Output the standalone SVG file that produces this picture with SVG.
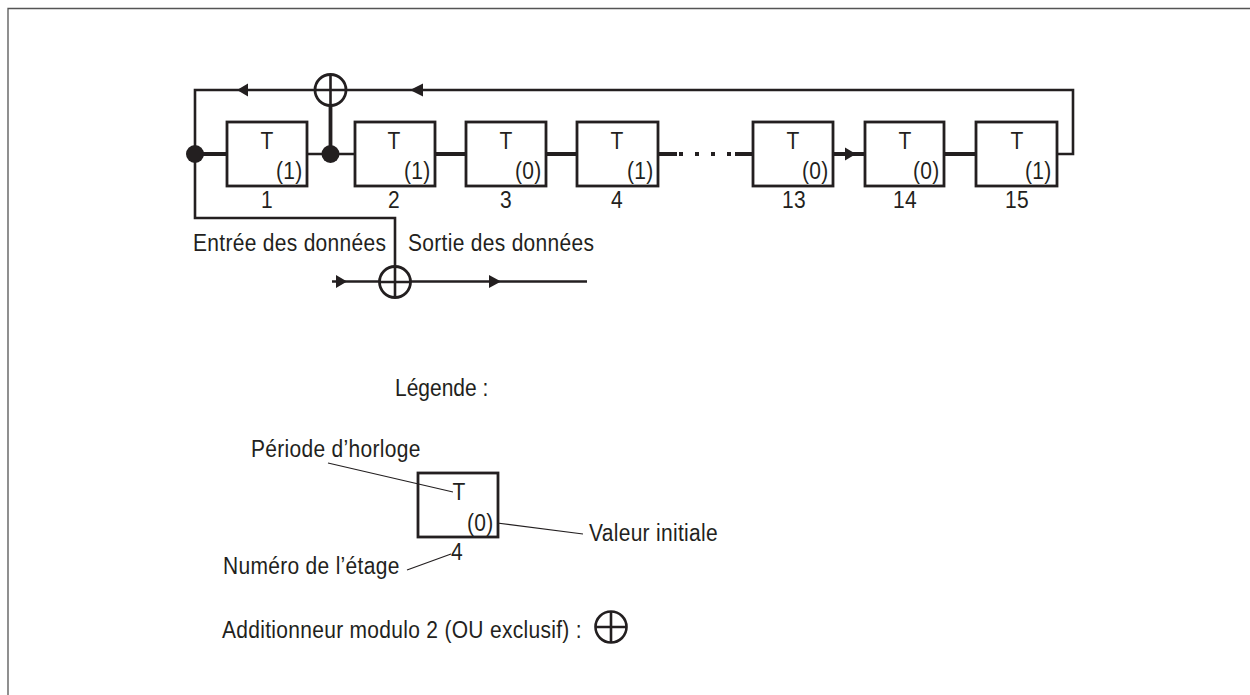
<svg xmlns="http://www.w3.org/2000/svg" width="1250" height="695" viewBox="0 0 1250 695">
<style>
text{font-family:"Liberation Sans",Arial,sans-serif;font-size:21px;letter-spacing:.3px;fill:#231f20}
.m{text-anchor:middle}
.b{fill:none;stroke:#231f20;stroke-width:2.800}
.w{fill:none;stroke:#231f20;stroke-width:2.600}
.t{fill:none;stroke:#231f20;stroke-width:3.800}
.n{fill:none;stroke:#231f20;stroke-width:1.200}
.x{fill:#fff;stroke:#231f20;stroke-width:2.800}
.a{fill:#231f20}
</style>
<rect width="1250" height="695" fill="#fff"/>
<path d="M8 695V8.500H1250" fill="none" stroke="#555" stroke-width="1.300"/>
<g id="connectors">
<path class="w" d="M195 154V90H1073V154H1057"/>
<path class="w" d="M195 154V218H395V282"/>
<path class="t" d="M195 154H227M330.500 90V154M434 154H466M546 154H577M833 154H865M944 154H976"/>
<path class="w" d="M307 154H355"/>
<path class="t" d="M658 154H677M679 154H683M695 154H699M711 154H715M727 154H731M735 154H753"/>
<path class="w" d="M332 281.500H587"/>
<path class="a" d="M248 83.500V96.500L237 90ZM423 83.500V96.500L410 90Z"/>
<path class="a" d="M336 275V288L347 281.500ZM489 275V288L501 281.500ZM845 147.500V160.500L856 154Z"/>
<circle class="a" cx="195" cy="154" r="9"/>
<circle class="a" cx="330.500" cy="154" r="9"/>
<path class="n" d="M328 463L453 492M497 523L583 534M407 570L451 554"/>
</g>
<g id="xor-top"><circle class="x" cx="330.500" cy="90" r="15.500"/><path class="w" d="M315 90H346M330.500 75V105"/></g>
<g id="xor-bottom"><circle class="x" cx="395" cy="282" r="15.500"/><path class="w" d="M380 282H411M395 267V297"/></g>
<g id="stage-1"><rect class="b" x="227" y="122" width="80" height="64"/><text class="m" transform="translate(267 149) scale(1 1.1)">T</text><text transform="translate(276 179) scale(1 1.1)">(1)</text><text class="m" transform="translate(267 208) scale(1 1.1)">1</text></g>
<g id="stage-2"><rect class="b" x="355" y="122" width="80" height="64"/><text class="m" transform="translate(394 149) scale(1 1.1)">T</text><text transform="translate(404 179) scale(1 1.1)">(1)</text><text class="m" transform="translate(394 208) scale(1 1.1)">2</text></g>
<g id="stage-3"><rect class="b" x="466" y="122" width="80" height="64"/><text class="m" transform="translate(506 149) scale(1 1.1)">T</text><text transform="translate(515 179) scale(1 1.1)">(0)</text><text class="m" transform="translate(506 208) scale(1 1.1)">3</text></g>
<g id="stage-4"><rect class="b" x="577" y="122" width="81" height="64"/><text class="m" transform="translate(617 149) scale(1 1.1)">T</text><text transform="translate(627 179) scale(1 1.1)">(1)</text><text class="m" transform="translate(617 208) scale(1 1.1)">4</text></g>
<g id="stage-13"><rect class="b" x="753" y="122" width="80" height="64"/><text class="m" transform="translate(793 149) scale(1 1.1)">T</text><text transform="translate(802 179) scale(1 1.1)">(0)</text><text class="m" transform="translate(794 208) scale(1 1.1)">13</text></g>
<g id="stage-14"><rect class="b" x="865" y="122" width="79" height="64"/><text class="m" transform="translate(905 149) scale(1 1.1)">T</text><text transform="translate(913 179) scale(1 1.1)">(0)</text><text class="m" transform="translate(905 208) scale(1 1.1)">14</text></g>
<g id="stage-15"><rect class="b" x="976" y="122" width="81" height="64"/><text class="m" transform="translate(1017 149) scale(1 1.1)">T</text><text transform="translate(1025 179) scale(1 1.1)">(1)</text><text class="m" transform="translate(1017 208) scale(1 1.1)">15</text></g>
<text transform="translate(193 251) scale(1 1.1)">Entrée des données</text>
<text transform="translate(408 251) scale(1 1.1)">Sortie des données</text>
<text transform="translate(395 396) scale(1 1.1)" style="letter-spacing:0">Légende :</text>
<text transform="translate(251 457) scale(1 1.1)">Période d’horloge</text>
<g id="legend-stage"><rect class="b" x="418" y="473" width="80" height="64"/><text class="m" transform="translate(459 500) scale(1 1.1)">T</text><text transform="translate(467 531) scale(1 1.1)">(0)</text><text class="m" transform="translate(457 560) scale(1 1.1)">4</text></g>
<text transform="translate(589 541) scale(1 1.1)">Valeur initiale</text>
<text transform="translate(223 574) scale(1 1.1)">Numéro de l’étage</text>
<text transform="translate(222 638) scale(1 1.1)">Additionneur modulo 2 (OU exclusif) :</text>
<g id="legend-xor"><circle class="w" cx="611" cy="627" r="15.500"/><path class="w" d="M596 627H627M611 612V642"/></g>
</svg>
